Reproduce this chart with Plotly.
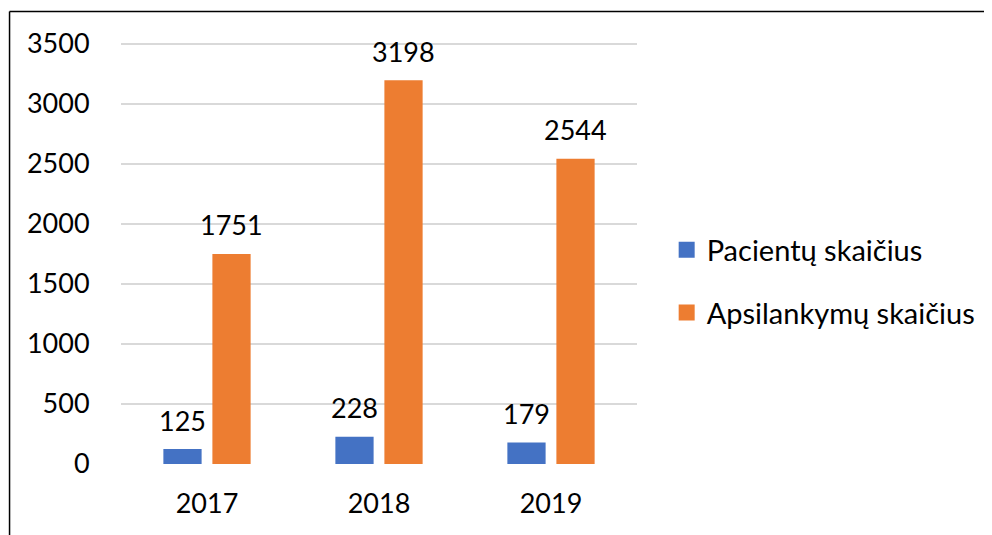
import plotly.graph_objects as go

years = ["2017", "2018", "2019"]
patients = [125, 228, 179]
visits = [1751, 3198, 2544]
series_names = ["Pacientų skaičius", "Apsilankymų skaičius"]
y_ticks = [0, 500, 1000, 1500, 2000, 2500, 3000, 3500]

BLUE = "#4472C4"
ORANGE = "#ED7D31"
FONT = "Lato"
FS = 27

# numeric positions for the year categories (avoids year strings becoming dates)
xpos = list(range(len(years)))

fig = go.Figure()
for name, vals, color in zip(series_names, [patients, visits], [BLUE, ORANGE]):
    fig.add_trace(go.Bar(
        x=xpos, y=vals, name=name, marker=dict(color=color, line=dict(width=0)),
        showlegend=False,
    ))
    # legend proxy with a bigger square swatch, like Excel's
    fig.add_trace(go.Scatter(
        x=[None], y=[None], mode="markers", name=name, legendgroup=name,
        marker=dict(symbol="square", size=18, color=color, line=dict(width=0)),
    ))

# value labels above bars (Excel style offset)
annotations = []
for vals, shift in [(patients, -24.5), (visits, 24.5)]:
    for xp, v in zip(xpos, vals):
        annotations.append(dict(
            x=xp, y=v, text=str(v), xref="x", yref="y",
            xshift=shift, yshift=29, yanchor="middle", xanchor="center",
            showarrow=False, font=dict(family=FONT, size=FS, color="#000"),
        ))

# chart frame (left + top edges visible in the crop)
shapes = [
    dict(type="line", xref="paper", yref="paper", x0=-0.216, x1=-0.216,
         y0=1.067, y1=-0.3, line=dict(color="#000", width=1.5)),
    dict(type="line", xref="paper", yref="paper", x0=-0.216, x1=1.8,
         y0=1.067, y1=1.067, line=dict(color="#000", width=1.5)),
]

fig.update_layout(
    width=992, height=535,
    margin=dict(l=113, r=363, t=32, b=79, autoexpand=False),
    paper_bgcolor="white", plot_bgcolor="white",
    font=dict(family=FONT, size=FS, color="#000"),
    barmode="group", bargap=0.43, bargroupgap=0.22,
    xaxis=dict(range=[-0.5, 2.5], tickvals=xpos, ticktext=years,
               showgrid=False, showline=False, zeroline=False,
               ticks="outside", ticklen=16, tickcolor="rgba(0,0,0,0)",
               tickfont=dict(size=FS), automargin=False),
    yaxis=dict(range=[0, 3533.3], tickvals=y_ticks, showgrid=True,
               gridcolor="#D9D9D9", gridwidth=1.5, zeroline=False, showline=False,
               ticks="outside", ticklen=25, tickcolor="rgba(0,0,0,0)",
               tickfont=dict(size=FS), automargin=False),
    legend=dict(x=1.0575, y=0.565, xanchor="left", yanchor="top",
                font=dict(size=29), tracegroupgap=22, traceorder="grouped",
                bgcolor="rgba(0,0,0,0)"),
    annotations=annotations,
    shapes=shapes,
)

fig.write_html("out.html")
